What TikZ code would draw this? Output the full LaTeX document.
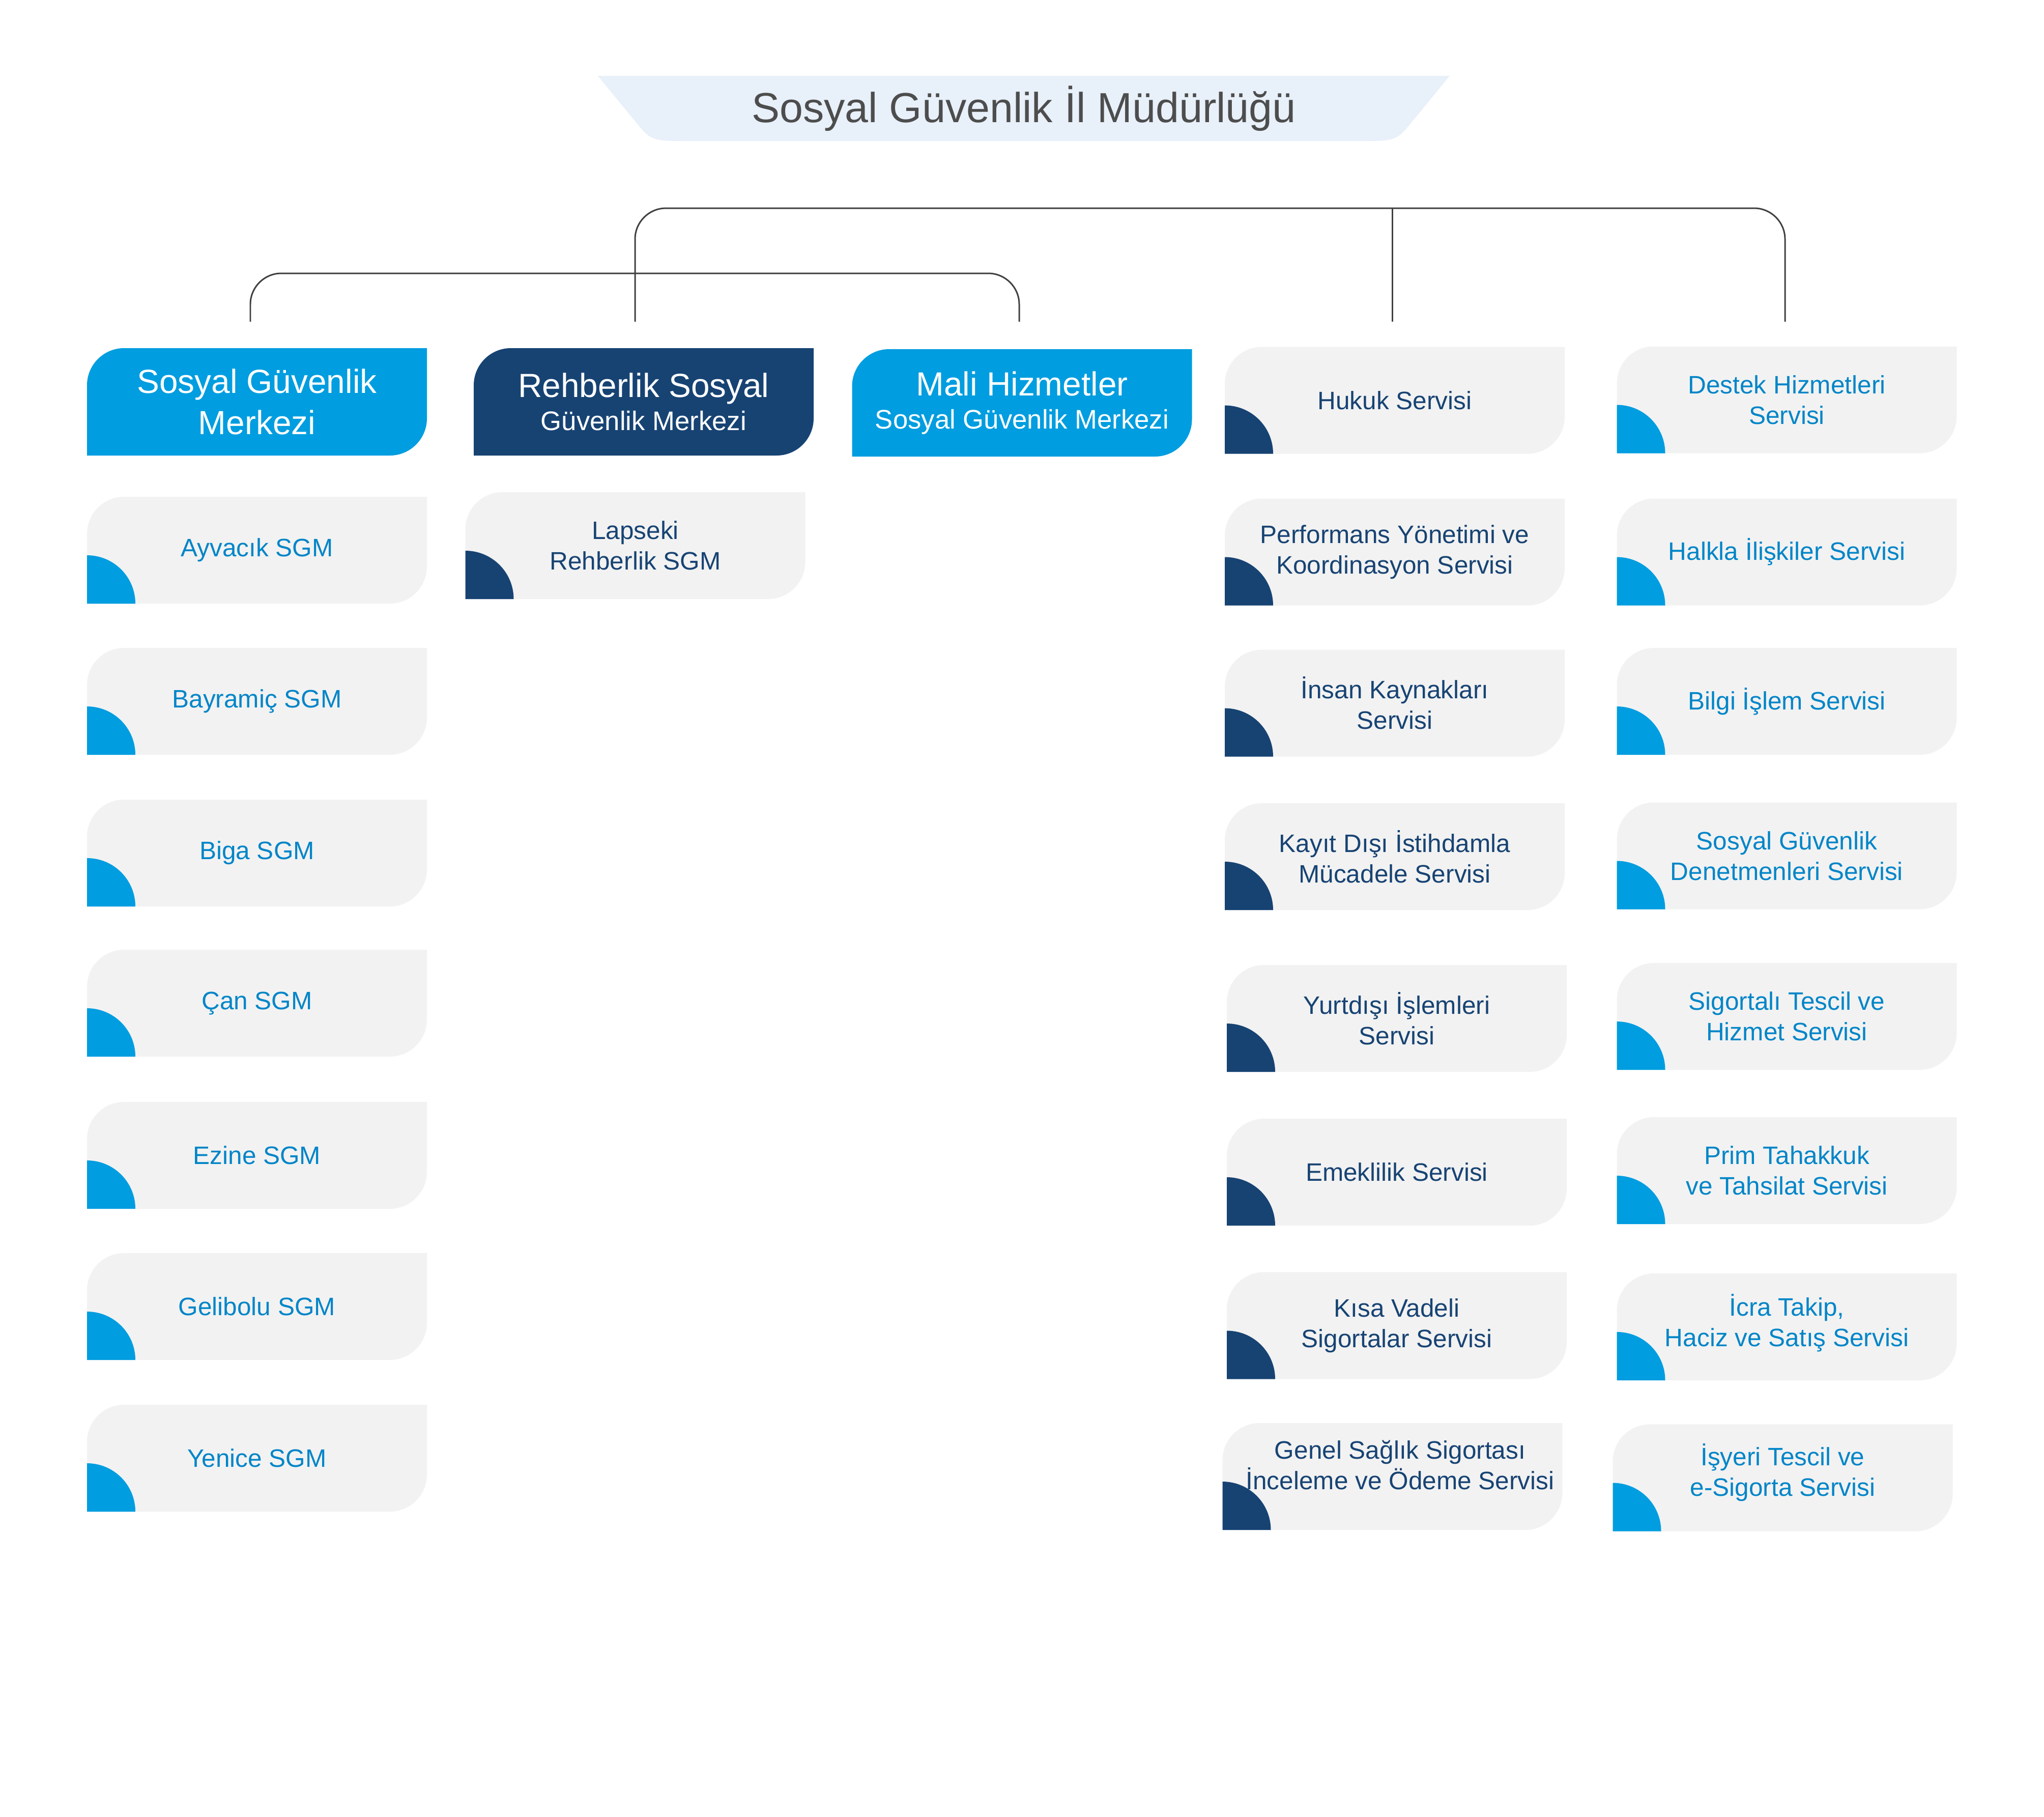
\documentclass[tikz,border=0pt]{standalone}
\usepackage{fontspec}
\setmainfont{Liberation Sans}
\usetikzlibrary{positioning,calc}

\definecolor{sgkblue}{RGB}{0,157,224}
\definecolor{sgknavy}{RGB}{23,67,115}
\definecolor{sgktext}{RGB}{0,133,200}
\definecolor{cardgrey}{RGB}{242,242,242}
\definecolor{titlebg}{RGB}{232,240,250}
\definecolor{titlegrey}{RGB}{77,77,77}
\definecolor{linkgrey}{RGB}{64,64,64}

% invisible depth under a last line, lifts the text in its card
\newcommand{\liftby}[1]{\rule[-#1]{0pt}{0pt}}

\begin{document}
\begin{tikzpicture}[
    % coloured unit header: top-left and bottom-right corners rounded
    header/.style={rectangle, inner sep=0pt, minimum width=6.68cm, minimum height=2.11cm,
      align=center, text=white,
      path picture={\fill[#1] (path picture bounding box.south west)
        -- ([yshift=-7.3mm]path picture bounding box.north west)
        arc[start angle=180, end angle=90, radius=7.3mm]
        -- (path picture bounding box.north east)
        -- ([yshift=7.3mm]path picture bounding box.south east)
        arc[start angle=0, end angle=-90, radius=7.3mm] -- cycle;}},
    % grey service card with a quarter disc in the corner
    card/.style 2 args={rectangle, inner sep=0pt, minimum width=6.68cm, minimum height=2.10cm,
      align=center, text=#2, font=\fontsize{14.1}{17.1}\selectfont,
      path picture={\fill[cardgrey] (path picture bounding box.south west)
        -- ([yshift=-7.3mm]path picture bounding box.north west)
        arc[start angle=180, end angle=90, radius=7.3mm]
        -- (path picture bounding box.north east)
        -- ([yshift=7.3mm]path picture bounding box.south east)
        arc[start angle=0, end angle=-90, radius=7.3mm] -- cycle;
        \fill[#1] (path picture bounding box.south west) -- ++(0,0.95)
        arc[start angle=90, end angle=0, radius=0.95] -- cycle;}},
    link/.style={draw=linkgrey, line width=0.85pt, rounded corners=6.1mm},
    titletext/.style={text=titlegrey, font=\fontsize{23.5}{28}\selectfont, inner sep=0pt, anchor=base}
  ]

  % canvas
  \fill[white] (0,0) rectangle (40.17,-35.70);
  \useasboundingbox (0,0) rectangle (40.17,-35.70);

  % title banner
  \fill[titlebg] (11.75,-1.49) -- (12.48,-2.38) .. controls (12.80,-2.77) .. (13.55,-2.77)
    -- (26.69,-2.77) .. controls (27.44,-2.77) .. (27.76,-2.38) -- (28.49,-1.49) -- cycle;
  \node[titletext] (title) at (20.12,-2.40) {Sosyal Güvenlik İl Müdürlüğü};

  % brackets
  \coordinate (lbL) at (4.92,-6.32);
  \coordinate (lbR) at (20.03,-6.32);
  \coordinate (ubL) at (12.48,-6.32);
  \coordinate (ubM) at (27.36,-6.32);
  \coordinate (ubR) at (35.08,-6.32);
  \draw[link] (lbL) -- ++(0,0.95) -| (lbR);
  \draw[link] (ubL) -- ++(0,2.23) -| (ubR);
  \draw[link] (ubM) -- ++(0,2.23);

  % centres
  \node[header=sgkblue, font=\fontsize{18.7}{22.8}\selectfont] (sgm) at (5.05,-7.895)
    {Sosyal Güvenlik\\Merkezi};
  \node[header=sgknavy, font=\fontsize{15}{18.5}\selectfont] (rsgm) at (12.65,-7.895)
    {{\fontsize{18.7}{18.5}\selectfont Rehberlik Sosyal}\\Güvenlik Merkezi};
  \node[header=sgkblue, font=\fontsize{15}{18.5}\selectfont] (mali) at (20.085,-7.915)
    {{\fontsize{18.7}{18.5}\selectfont Mali Hizmetler}\\Sosyal Güvenlik Merkezi};

  % district SGMs
  \foreach \n/\y/\txt in {ayv/10.81/Ayvacık SGM, bay/13.78/Bayramiç SGM, biga/16.76/Biga SGM,
      can/19.71/Çan SGM, ezn/22.70/Ezine SGM, gel/25.67/Gelibolu SGM, yen/28.65/Yenice SGM}
    \node[card={sgkblue}{sgktext}] (\n) at (5.05,-\y) {\txt};
  \node[card={sgknavy}{sgknavy}] (lap) at (12.485,-10.72) {Lapseki\\Rehberlik SGM};

  % services
  \node[card={sgknavy}{sgknavy}] (huk) at (27.41,-7.865) {Hukuk Servisi};
  \node[card={sgknavy}{sgknavy}] (perf) at (27.41,-10.845) {Performans Yönetimi ve\\Koordinasyon Servisi};
  \node[card={sgknavy}{sgknavy}] (ik) at (27.41,-13.815) {İnsan Kaynakları\\Servisi};
  \node[card={sgknavy}{sgknavy}] (kdi) at (27.41,-16.83) {Kayıt Dışı İstihdamla\\Mücadele Servisi};
  \node[card={sgknavy}{sgknavy}] (yurt) at (27.45,-20.01) {Yurtdışı İşlemleri\\Servisi};
  \node[card={sgknavy}{sgknavy}] (emek) at (27.45,-23.03) {Emeklilik Servisi};
  \node[card={sgknavy}{sgknavy}] (kvs) at (27.45,-26.045) {Kısa Vadeli\\Sigortalar Servisi};
  \node[card={sgknavy}{sgknavy}] (gss) at (27.365,-29.01)
    {\hspace*{3mm}Genel Sağlık Sigortası\\\hspace*{3mm}İnceleme ve Ödeme Servisi\liftby{4.6mm}};

  \node[card={sgkblue}{sgktext}] (dest) at (35.115,-7.855) {Destek Hizmetleri\\Servisi};
  \node[card={sgkblue}{sgktext}] (halk) at (35.115,-10.845) {Halkla İlişkiler Servisi};
  \node[card={sgkblue}{sgktext}] (bilgi) at (35.115,-13.78) {Bilgi İşlem Servisi};
  \node[card={sgkblue}{sgktext}] (denet) at (35.115,-16.815) {Sosyal Güvenlik\\Denetmenleri Servisi};
  \node[card={sgkblue}{sgktext}] (tescil) at (35.115,-19.97) {Sigortalı Tescil ve\\Hizmet Servisi};
  \node[card={sgkblue}{sgktext}] (prim) at (35.115,-23.00) {Prim Tahakkuk\\ve Tahsilat Servisi};
  \node[card={sgkblue}{sgktext}] (icra) at (35.115,-26.07) {İcra Takip,\\Haciz ve Satış Servisi\liftby{2.6mm}};
  \node[card={sgkblue}{sgktext}] (isyeri) at (35.035,-29.035) {İşyeri Tescil ve\\e-Sigorta Servisi\liftby{3.1mm}};

\end{tikzpicture}
\end{document}
